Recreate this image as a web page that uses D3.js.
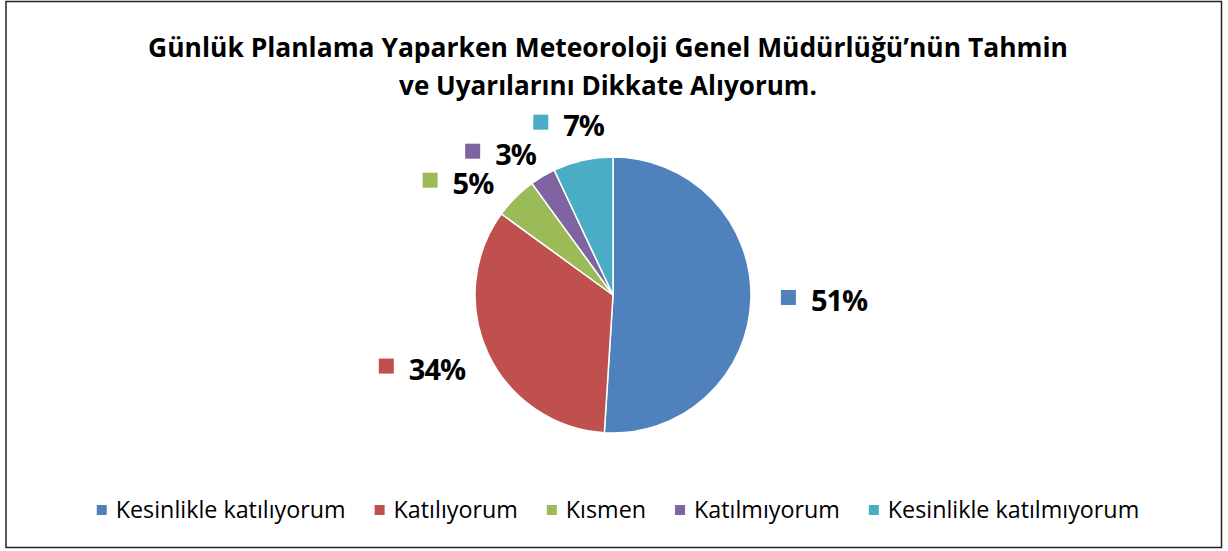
<!DOCTYPE html>
<html>
<head>
<meta charset="utf-8">
<script src="https://cdn.jsdelivr.net/npm/d3@7/dist/d3.min.js"></script>
<style>
  html, body { margin: 0; padding: 0; background: #fff; }
  svg { display: block; }
</style>
</head>
<body>
<script>
  // chart data
  var categories = ["Kesinlikle katılıyorum", "Katılıyorum", "Kısmen", "Katılmıyorum", "Kesinlikle katılmıyorum"];
  var values = [51, 34, 5, 3, 7];
  var colors = ["#4F81BD", "#C0504D", "#9BBB59", "#8064A2", "#4BACC6"];
  var titleLines = ["Günlük Planlama Yaparken Meteoroloji Genel Müdürlüğü’nün Tahmin", "ve Uyarılarını Dikkate Alıyorum."];

  var W = 1228, H = 551;
  var font = "'Open Sans', 'Noto Sans', sans-serif";

  var svg = d3.select("body")
    .append("svg")
      .attr("width", W)
      .attr("height", H);

  svg.append("rect")
    .attr("x", 6).attr("y", 1.5)
    .attr("width", 1215.5).attr("height", 546)
    .style("fill", "white")
    .style("stroke", "#222")
    .style("stroke-width", 1.5);

  // shrink a text element's font so it matches a target width
  function fitWidth(sel, target) {
    var fs = parseFloat(sel.style("font-size"));
    var w = sel.node().getComputedTextLength();
    var nfs = fs * target / w;
    sel.style("font-size", nfs.toFixed(2) + "px");
    return nfs;
  }

  // title
  var titleY = [57, 95];
  var titleW = [920, 418];
  titleLines.forEach(function(t, i) {
    var tt = svg.append("text")
      .attr("x", 608).attr("y", titleY[i])
      .attr("text-anchor", "middle")
      .style("font-family", font)
      .style("font-weight", "bold")
      .style("font-size", "24px")
      .style("fill", "#000")
      .text(t);
    fitWidth(tt, titleW[i]);
  });

  // pie
  var cx = 613, cy = 295, r = 138;
  var pie = d3.pie().sort(null).value(function(d) { return d; });
  var arcs = pie(values);
  var arc = d3.arc().innerRadius(0).outerRadius(r);

  var g = svg.append("g").attr("transform", "translate(" + cx + "," + cy + ")");
  g.selectAll("path.slice")
    .data(arcs)
    .enter().append("path")
      .attr("class", "slice")
      .attr("d", arc)
      .style("fill", function(d, i) { return colors[i]; })
      .style("stroke", "white")
      .style("stroke-width", 1.5);

  // data labels: marker square + bold percent, pushed outward from the pie
  var labelR = r + 30;
  var labelFs = 29, sq = 15, gap = 15, bh = 24, pad = 5;
  var labels = [];
  arcs.forEach(function(d, i) {
    var a = (d.startAngle + d.endAngle) / 2;
    var px = Math.sin(a) * labelR, py = -Math.cos(a) * labelR;
    var lg = g.append("g");
    var txt = lg.append("text")
      .attr("x", sq + gap).attr("y", 0)
      .attr("dy", "0.36em")
      .style("font-family", font)
      .style("font-weight", "bold")
      .style("font-size", labelFs + "px")
      .style("letter-spacing", "-1px")
      .style("fill", "#000")
      .text(values[i] + "%");
    lg.append("rect")
      .attr("x", 0).attr("y", -sq / 2 - 3)
      .attr("width", sq).attr("height", sq)
      .style("fill", colors[i]);
    var bw = sq + gap + txt.node().getComputedTextLength();
    labels.push({
      node: lg, w: bw, left: Math.sin(a) < 0,
      x: px + Math.sin(a) * bw / 2 - bw / 2,
      y: py - Math.cos(a) * bh / 4
    });
  });

  // simple collision pass: push overlapping labels down and outward
  var placed = [];
  labels.slice().sort(function(p, q) { return p.y - q.y; }).forEach(function(l) {
    placed.forEach(function(p) {
      var xo = l.x < p.x + p.w && p.x < l.x + l.w;
      var d = p.y + bh + pad - l.y;
      if (xo && d > 0 && l.y >= p.y) {
        l.y += d;
        l.x += l.left ? -d : d;
      }
    });
    placed.push(l);
  });
  labels.forEach(function(l) {
    l.node.attr("transform", "translate(" + l.x + "," + l.y + ")");
  });

  // legend
  var lsq = 10, lgap = 9, itemGap = 29;
  var leg = svg.append("g");
  var x = 0, legFs = 20;
  categories.forEach(function(c, i) {
    leg.append("rect")
      .attr("x", x).attr("y", -lsq / 2)
      .attr("width", lsq).attr("height", lsq)
      .style("fill", colors[i]);
    var t = leg.append("text")
      .attr("x", x + lsq + lgap).attr("y", 0)
      .attr("dy", "0.35em")
      .style("font-family", font)
      .style("font-size", legFs + "px")
      .style("fill", "#000")
      .text(c);
    if (i === 0) legFs = fitWidth(t, 230);
    x += lsq + lgap + t.node().getComputedTextLength() + itemGap;
  });
  var legW = x - itemGap;
  leg.attr("transform", "translate(" + (618 - legW / 2) + ",510)");
</script>
</body>
</html>
